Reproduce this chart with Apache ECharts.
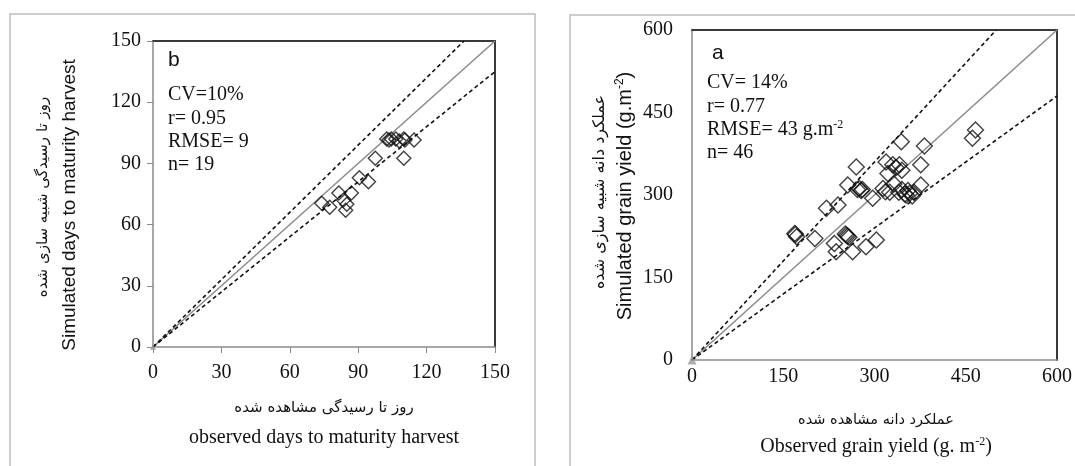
<!DOCTYPE html>
<html>
<head>
<meta charset="utf-8">
<script src="https://cdn.jsdelivr.net/npm/echarts@6/dist/echarts.min.js"></script>
<style>
  html, body { margin: 0; padding: 0; background: #fff; }
  #chart { width: 1075px; height: 466px; }
</style>
</head>
<body>
<div id="chart"></div>
<script>
// panel b: days to maturity (observed vs simulated)
const obsB = [74, 77.5, 81.5, 83.5, 84.5, 85, 87, 90.5, 94.5, 97.5, 102.5, 103.5, 104.5, 106.5, 108, 110, 110.5, 114.5, 110]
const simB = [70.5, 68.5, 75.5, 72, 67, 70, 75.5, 83, 81, 92.5, 102, 101.5, 102, 102, 101, 102, 101.5, 101.5, 92.5]
const ticksB = [0, 30, 60, 90, 120, 150]
const slopesB = [1.1, 0.9]

// panel a: grain yield (observed vs simulated)
const obsA = [169, 172, 170, 202, 221, 240, 234, 237, 254, 256, 258, 252, 264, 286, 303, 256, 270, 272, 275, 278,
  280, 297, 314, 318, 319, 322, 330, 335, 341, 345, 344, 352, 355, 358, 362, 340, 345, 376, 376, 382,
  461, 466, 350, 365, 332, 325]
const simA = [230, 224, 228, 221, 276, 282, 212, 197, 227, 225, 223, 229, 197, 206, 218, 318, 351, 310, 312, 308,
  310, 294, 312, 306, 360, 339, 355, 350, 355, 345, 397, 300, 308, 303, 298, 305, 310, 355, 318, 389,
  403, 418, 302, 305, 320, 305]
const ticksA = [0, 150, 300, 450, 600]
const slopesA = [1.2, 0.8]

const serif = 'Liberation Serif, Times New Roman, serif'
const narrow = 'Liberation Sans Narrow, Arial Narrow, Liberation Sans, sans-serif'
const persian = 'DejaVu Sans, sans-serif'

function lineTo(slope, max) {
  return slope >= 1 ? [[0, 0], [max / slope, max]] : [[0, 0], [max, max * slope]]
}

function mainX(grid, ticks, showTick, margin) {
  return {
    type: 'value', gridIndex: grid, position: 'bottom',
    min: ticks[0], max: ticks[ticks.length - 1], interval: ticks[1] - ticks[0],
    axisLine: { onZero: false, lineStyle: { color: '#8a8a8a', width: 1.5 } },
    axisTick: { show: showTick, length: 6, lineStyle: { color: '#8a8a8a' } },
    axisLabel: { color: '#111', fontFamily: serif, fontSize: 20, margin: margin },
    splitLine: { show: false },
  }
}
function mainY(grid, ticks, showTick, margin) {
  return {
    type: 'value', gridIndex: grid, position: 'left',
    min: ticks[0], max: ticks[ticks.length - 1], interval: ticks[1] - ticks[0],
    axisLine: { onZero: false, lineStyle: { color: '#8a8a8a', width: 1.5 } },
    axisTick: { show: showTick, length: 6, lineStyle: { color: '#8a8a8a' } },
    axisLabel: { color: '#111', fontFamily: serif, fontSize: 20, margin: margin },
    splitLine: { show: false },
  }
}
// dark top / right edges of the plot box
function frame(kind, grid, ticks) {
  return {
    type: 'value', gridIndex: grid, position: kind,
    min: ticks[0], max: ticks[ticks.length - 1],
    axisLine: { show: true, onZero: false, lineStyle: { color: '#3a3a3a', width: 2 } },
    axisTick: { show: false }, axisLabel: { show: false }, splitLine: { show: false },
  }
}

function scatter(xi, yi, xs, ys, size) {
  return {
    type: 'scatter', xAxisIndex: xi, yAxisIndex: yi,
    data: xs.map((v, i) => [v, ys[i]]),
    symbol: 'diamond', symbolSize: size,
    itemStyle: { color: 'rgba(0,0,0,0)', borderColor: '#111', borderWidth: 1.4 },
    z: 5,
  }
}
function refLine(xi, yi, data, dashed) {
  return {
    type: 'line', xAxisIndex: xi, yAxisIndex: yi, data: data,
    symbol: 'none', silent: true,
    lineStyle: dashed
      ? { color: '#111', width: 1.6, type: [4, 3] }
      : { color: '#8a8a8a', width: 1.5 },
    z: 3,
  }
}
function origin(xi, yi, size) {
  return {
    type: 'scatter', xAxisIndex: xi, yAxisIndex: yi, data: [[0, 0]],
    symbol: 'triangle', symbolSize: size, itemStyle: { color: '#9a9a9a' }, z: 4,
  }
}

const maxB = ticksB[ticksB.length - 1]
const maxA = ticksA[ticksA.length - 1]

const statB = ['CV=10%', 'r= 0.95', 'RMSE= 9', 'n= 19']
const statA = ['CV= 14%', 'r= 0.77', 'RMSE= 43 g.m{s|-2}', 'n= 46']

function statText(x, y0, lines) {
  return lines.map((t, i) => ({
    type: 'text', x: x, y: y0 + i * 23.3,
    style: {
      text: t, fontFamily: serif, fontSize: 20, fill: '#111', verticalAlign: 'middle',
      rich: { s: { fontFamily: serif, fontSize: 12, fill: '#111', verticalAlign: 'top', padding: [0, 0, 10, 0] } },
    },
  }))
}

const chart = echarts.init(document.getElementById('chart'))

chart.setOption({
  animation: false,
  backgroundColor: '#fff',
  grid: [
    { left: 153, top: 41, right: 580, bottom: 119 },
    { left: 692, top: 30, right: 17, bottom: 106 },
  ],
  xAxis: [
    mainX(0, ticksB, true, 16), frame('top', 0, ticksB),
    mainX(1, ticksA, false, 7), frame('top', 1, ticksA),
  ],
  yAxis: [
    mainY(0, ticksB, true, 12), frame('right', 0, ticksB),
    mainY(1, ticksA, false, 19), frame('right', 1, ticksA),
  ],
  series: [
    refLine(0, 0, lineTo(1, maxB), false),
    refLine(0, 0, lineTo(slopesB[0], maxB), true),
    refLine(0, 0, lineTo(slopesB[1], maxB), true),
    origin(0, 0, 6),
    scatter(0, 0, obsB, simB, 14),
    refLine(2, 2, lineTo(1, maxA), false),
    refLine(2, 2, lineTo(slopesA[0], maxA), true),
    refLine(2, 2, lineTo(slopesA[1], maxA), true),
    origin(2, 2, 9),
    scatter(2, 2, obsA, simA, 16),
  ],
  graphic: [
    // outer frames of both panels
    { type: 'rect', shape: { x: 10, y: 14, width: 525, height: 470 }, style: { fill: 'none', stroke: '#bdbdbd', lineWidth: 1.5 }, z: -1 },
    { type: 'rect', shape: { x: 570, y: 15, width: 520, height: 470 }, style: { fill: 'none', stroke: '#bdbdbd', lineWidth: 1.5 }, z: -1 },

    // panel letters and statistics
    { type: 'text', x: 168, y: 60, style: { text: 'b', fontFamily: 'Liberation Sans, sans-serif', fontSize: 21, fill: '#111', verticalAlign: 'middle' } },
    { type: 'text', x: 712, y: 53, style: { text: 'a', fontFamily: 'Liberation Sans, sans-serif', fontSize: 21, fill: '#111', verticalAlign: 'middle' } },
    ...statText(168, 95, statB),
    ...statText(707, 83, statA),

    // y titles
    { type: 'text', x: 70, y: 205, rotation: Math.PI / 2,
      style: { text: 'Simulated days to maturity harvest', fontFamily: narrow, fontSize: 19, fill: '#111', align: 'center', verticalAlign: 'middle' } },
    { type: 'text', x: 43, y: 197, rotation: Math.PI / 2,
      style: { text: 'روز تا رسیدگی شبیه سازی شده', fontFamily: persian, fontSize: 15, fill: '#111', align: 'center', verticalAlign: 'middle' } },
    { type: 'text', x: 625, y: 196, rotation: Math.PI / 2,
      style: {
        text: 'Simulated grain yield (g.m{s|-2})', fontFamily: narrow, fontSize: 20, fill: '#111', align: 'center', verticalAlign: 'middle',
        rich: { s: { fontFamily: narrow, fontSize: 12, fill: '#111', verticalAlign: 'top', padding: [0, 0, 10, 0] } },
      } },
    { type: 'text', x: 600, y: 192, rotation: Math.PI / 2,
      style: { text: 'عملکرد دانه شبیه سازی شده', fontFamily: persian, fontSize: 16, fill: '#111', align: 'center', verticalAlign: 'middle' } },

    // x titles
    { type: 'text', x: 324, y: 408,
      style: { text: 'روز تا رسیدگی مشاهده شده', fontFamily: persian, fontSize: 15, fill: '#111', align: 'center', verticalAlign: 'middle' } },
    { type: 'text', x: 324, y: 438,
      style: { text: 'observed days to maturity harvest', fontFamily: serif, fontSize: 20, fill: '#111', align: 'center', verticalAlign: 'middle' } },
    { type: 'text', x: 876, y: 420,
      style: { text: 'عملکرد دانه مشاهده شده', fontFamily: persian, fontSize: 14.5, fill: '#111', align: 'center', verticalAlign: 'middle' } },
    { type: 'text', x: 876, y: 447,
      style: {
        text: 'Observed grain yield (g. m{s|-2})', fontFamily: serif, fontSize: 20, fill: '#111', align: 'center', verticalAlign: 'middle',
        rich: { s: { fontFamily: serif, fontSize: 12, fill: '#111', verticalAlign: 'top', padding: [0, 0, 10, 0] } },
      } },
  ],
})
</script>
</body>
</html>
